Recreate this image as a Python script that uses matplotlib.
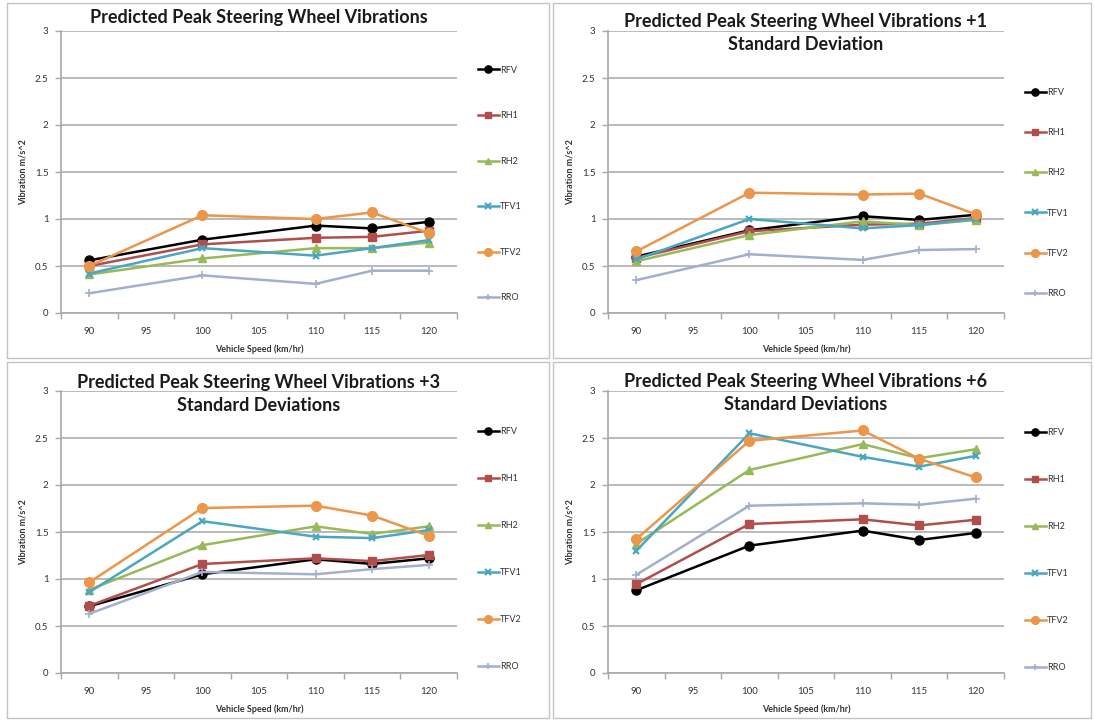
import matplotlib
matplotlib.use("Agg")
import matplotlib.pyplot as plt
from matplotlib.patches import Rectangle
from matplotlib.ticker import FixedLocator, NullFormatter

plt.rcParams['font.family'] = ['Lato', 'DejaVu Sans']

# Vehicle speeds (km/hr) where the predictions were made
speeds = [90, 100, 110, 115, 120]
tick_speeds = [90, 95, 100, 105, 110, 115, 120]

series_names = ["RFV", "RH1", "RH2", "TFV1", "TFV2", "RRO"]

# Predicted peak steering wheel vibration (m/s^2)
base_rfv = [0.56, 0.78, 0.93, 0.90, 0.97]
base_rh1 = [0.50, 0.73, 0.80, 0.81, 0.875]
base_rh2 = [0.41, 0.58, 0.69, 0.69, 0.75]
base_tfv1 = [0.42, 0.69, 0.61, 0.69, 0.775]
base_tfv2 = [0.50, 1.04, 1.00, 1.07, 0.85]
base_rro = [0.21, 0.40, 0.31, 0.45, 0.45]

sd1_rfv = [0.60, 0.88, 1.03, 0.99, 1.045]
sd1_rh1 = [0.585, 0.87, 0.94, 0.95, 1.01]
sd1_rh2 = [0.55, 0.83, 0.975, 0.935, 0.99]
sd1_tfv1 = [0.57, 1.00, 0.90, 0.935, 1.00]
sd1_tfv2 = [0.655, 1.28, 1.26, 1.27, 1.05]
sd1_rro = [0.35, 0.625, 0.565, 0.67, 0.68]

sd3_rfv = [0.71, 1.05, 1.21, 1.16, 1.22]
sd3_rh1 = [0.715, 1.16, 1.22, 1.19, 1.255]
sd3_rh2 = [0.885, 1.36, 1.56, 1.48, 1.56]
sd3_tfv1 = [0.86, 1.615, 1.45, 1.435, 1.52]
sd3_tfv2 = [0.965, 1.755, 1.78, 1.675, 1.46]
sd3_rro = [0.63, 1.075, 1.05, 1.105, 1.15]

sd6_rfv = [0.88, 1.355, 1.515, 1.415, 1.49]
sd6_rh1 = [0.945, 1.585, 1.635, 1.57, 1.63]
sd6_rh2 = [1.375, 2.16, 2.435, 2.285, 2.38]
sd6_tfv1 = [1.30, 2.55, 2.30, 2.195, 2.31]
sd6_tfv2 = [1.425, 2.47, 2.58, 2.28, 2.08]
sd6_rro = [1.045, 1.78, 1.805, 1.79, 1.855]

titles = [
    "Predicted Peak Steering Wheel Vibrations",
    "Predicted Peak Steering Wheel Vibrations +1\nStandard Deviation",
    "Predicted Peak Steering Wheel Vibrations +3\nStandard Deviations",
    "Predicted Peak Steering Wheel Vibrations +6\nStandard Deviations",
]
panel_data = [
    [base_rfv, base_rh1, base_rh2, base_tfv1, base_tfv2, base_rro],
    [sd1_rfv, sd1_rh1, sd1_rh2, sd1_tfv1, sd1_tfv2, sd1_rro],
    [sd3_rfv, sd3_rh1, sd3_rh2, sd3_tfv1, sd3_tfv2, sd3_rro],
    [sd6_rfv, sd6_rh1, sd6_rh2, sd6_tfv1, sd6_tfv2, sd6_rro],
]

styles = {
    "RFV": dict(color="#000000", marker="o", ms=6.5),
    "RH1": dict(color="#B04E4C", marker="s", ms=6),
    "RH2": dict(color="#98B958", marker="^", ms=6),
    "TFV1": dict(color="#4BA6C0", marker="x", ms=5, mew=1.6),
    "TFV2": dict(color="#EB964A", marker="o", ms=7),
    "RRO": dict(color="#A3AFCC", marker="+", ms=6, mew=1.2),
}

W, H = 1094, 721
fig = plt.figure(figsize=(W / 100, H / 100), dpi=100)
fig.patch.set_facecolor("white")


def fx(px):
    return px / W


def fy(py):
    return 1 - py / H


# pixel boxes: (left, top, right, bottom) of each plot area and panel frame
axes_boxes = [(61, 31, 457, 313), (608, 31, 1004, 313),
              (61, 391, 457, 673), (608, 391, 1004, 673)]
frame_boxes = [(7, 3, 549, 358), (553, 3, 1091, 358),
               (7, 362, 549, 718), (553, 362, 1091, 718)]
title_y = [18, 33, 34, 33]
legend_spacing = [4.05, 3.45, 4.2, 4.2]
legend_center = [184, 193, 189 + 360, 190 + 360]

for i in range(4):
    l, t, r, b = frame_boxes[i]
    fig.add_artist(Rectangle((fx(l), fy(b)), fx(r - l), (b - t) / H,
                             transform=fig.transFigure, fill=False,
                             edgecolor="#C4C4C4", lw=1.0))

    l, t, r, b = axes_boxes[i]
    ax = fig.add_axes([fx(l), fy(b), fx(r - l), (b - t) / H])
    ax.set_xlim(87.5, 122.5)
    ax.set_ylim(0, 3)
    ax.set_yticks([0, 0.5, 1, 1.5, 2, 2.5, 3])
    ax.set_yticklabels(["0", "0.5", "1", "1.5", "2", "2.5", "3"])
    ax.set_xticks(tick_speeds)
    ax.set_xticklabels([str(s) for s in tick_speeds])
    ax.xaxis.set_minor_locator(FixedLocator([87.5 + 5 * k for k in range(8)]))
    ax.xaxis.set_minor_formatter(NullFormatter())
    ax.tick_params(axis="x", which="major", length=0, pad=10,
                   labelsize=7, labelcolor="#333333")
    ax.tick_params(axis="x", which="minor", length=4, width=1.0,
                   color="#A8A8A8", direction="out")
    ax.tick_params(axis="y", which="major", length=4, width=1.0,
                   color="#A8A8A8", pad=5, labelsize=7, labelcolor="#333333")
    for s in ("top", "right"):
        ax.spines[s].set_visible(False)
    for s in ("left", "bottom"):
        ax.spines[s].set_color("#A8A8A8")
        ax.spines[s].set_linewidth(1.2)
    ax.grid(axis="y", color="#B4B4B4", lw=1.3)
    ax.set_axisbelow(True)

    for name, vals in zip(series_names, panel_data[i]):
        st = styles[name]
        ax.plot(speeds, vals, color=st["color"], lw=1.8, marker=st["marker"],
                ms=st["ms"], mew=st.get("mew", 1.0), mec=st["color"],
                mfc=st["color"], label=name, clip_on=False, zorder=3)

    ax.set_xlabel("Vehicle Speed (km/hr)", fontsize=6.5, fontweight="bold",
                  color="#333333", labelpad=6)
    ax.set_ylabel("Vibration m/s^2", fontsize=6.5, fontweight="bold",
                  color="#333333", labelpad=5)

    leg_y = (b - legend_center[i]) / (b - t)
    leg_x = (478 - l) / (r - l) if i % 2 == 0 else (1025 - l) / (r - l)
    ax.legend(loc="center left", bbox_to_anchor=(leg_x, leg_y),
              frameon=False, fontsize=6.5, handlelength=2.3, handletextpad=0.15,
              labelspacing=legend_spacing[i], borderpad=0, borderaxespad=0,
              numpoints=1, markerscale=0.8, labelcolor="#333333")

    fig.text(fx((l + r) / 2), fy(title_y[i] + (360 if i >= 2 else 0)), titles[i],
             ha="center", va="center", fontsize=13, fontweight="bold",
             color="#1A1A1A", linespacing=1.4)

fig.savefig("out.png", dpi=100, facecolor="white")
